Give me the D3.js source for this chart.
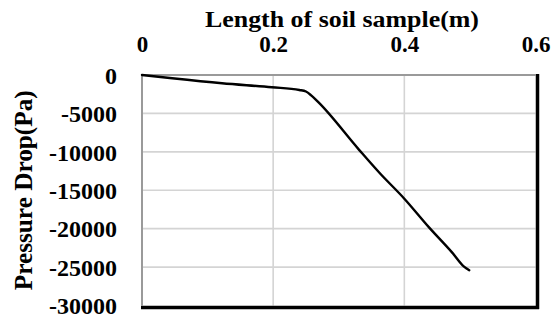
<!DOCTYPE html>
<html>
<head>
<meta charset="utf-8">
<script src="https://cdn.jsdelivr.net/npm/d3@7"></script>
<style>
  html, body { margin: 0; padding: 0; background: #fff; }
  svg { display: block; }
  text { font-family: "Liberation Serif", "Times New Roman", serif; font-weight: bold; fill: #000; }
</style>
</head>
<body>
<svg id="chart" width="557" height="320"></svg>
<script>
// Sample length along the soil column (m) and measured pressure drop (Pa)
const lengthM = [0, 0.046, 0.122, 0.198, 0.24, 0.25, 0.258, 0.27, 0.331, 0.362, 0.40, 0.438, 0.473, 0.491, 0.499];
const pressurePa = [0, -430, -1080, -1600, -1950, -2150, -2650, -3640, -9740, -12730, -16100, -19870, -23120, -24940, -25400];

const xTicks = [0, 0.2, 0.4, 0.6];
const yTicks = [0, -5000, -10000, -15000, -20000, -25000, -30000];

const svg = d3.select("#chart");
const plotL = 142, plotR = 535.5, plotT = 75, plotB = 305.5;

const x = d3.scaleLinear().domain([0, 0.6]).range([plotL, plotR]);
const y = d3.scaleLinear().domain([0, -30000]).range([plotT, plotB]);

// grid
const grid = svg.append("g").attr("stroke", "#d4d4d4").attr("stroke-width", 1.6);
grid.selectAll("line.v").data(xTicks.slice(1, -1)).join("line").attr("class", "v")
  .attr("x1", d => x(d)).attr("x2", d => x(d)).attr("y1", plotT).attr("y2", plotB);
grid.selectAll("line.h").data(yTicks.slice(1, -1)).join("line").attr("class", "h")
  .attr("x1", plotL).attr("x2", plotR).attr("y1", d => y(d)).attr("y2", d => y(d));

// plot frame: grey top/left, heavy black right/bottom
svg.append("line").attr("x1", plotL).attr("x2", plotR).attr("y1", plotT).attr("y2", plotT)
  .attr("stroke", "#9a9a9a").attr("stroke-width", 2);
svg.append("line").attr("x1", plotL).attr("x2", plotL).attr("y1", plotT).attr("y2", plotB)
  .attr("stroke", "#9a9a9a").attr("stroke-width", 2);
svg.append("line").attr("x1", plotR + 2).attr("x2", plotR + 2).attr("y1", plotT - 1).attr("y2", plotB + 3.5)
  .attr("stroke", "#000").attr("stroke-width", 3.5);
svg.append("line").attr("x1", plotL - 1).attr("x2", plotR + 3.5).attr("y1", plotB + 2).attr("y2", plotB + 2)
  .attr("stroke", "#000").attr("stroke-width", 3.5);

// axes (labels only)
const xAxis = svg.append("g").attr("transform", `translate(0,${plotT - 20})`)
  .call(d3.axisTop(x).tickValues(xTicks).tickFormat(d3.format("")).tickSize(0));
xAxis.select(".domain").remove();
xAxis.selectAll("text").attr("font-size", 23).attr("dy", 0);

const yAxis = svg.append("g").attr("transform", `translate(${plotL - 25},0)`)
  .call(d3.axisLeft(y).tickValues(yTicks).tickFormat(d => String(d)).tickSize(0).tickPadding(0));
yAxis.select(".domain").remove();
yAxis.selectAll("text").attr("font-size", 24).attr("dy", "0.34em");

// data line
const line = d3.line()
  .x((d, i) => x(lengthM[i]))
  .y((d, i) => y(pressurePa[i]))
  .curve(d3.curveMonotoneX);
svg.append("path").datum(lengthM).attr("d", line)
  .attr("fill", "none").attr("stroke", "#000").attr("stroke-width", 2.4)
  .attr("stroke-linejoin", "round").attr("stroke-linecap", "round");

// titles
svg.append("text").attr("x", 342).attr("y", 26.5).attr("text-anchor", "middle")
  .attr("font-size", 24).attr("textLength", 274).attr("lengthAdjust", "spacingAndGlyphs")
  .text("Length of soil sample(m)");
svg.append("text").attr("transform", `translate(32,${(plotT + plotB) / 2}) rotate(-90)`)
  .attr("text-anchor", "middle").attr("font-size", 25).attr("textLength", 200).attr("lengthAdjust", "spacingAndGlyphs")
  .text("Pressure Drop(Pa)");
</script>
</body>
</html>
